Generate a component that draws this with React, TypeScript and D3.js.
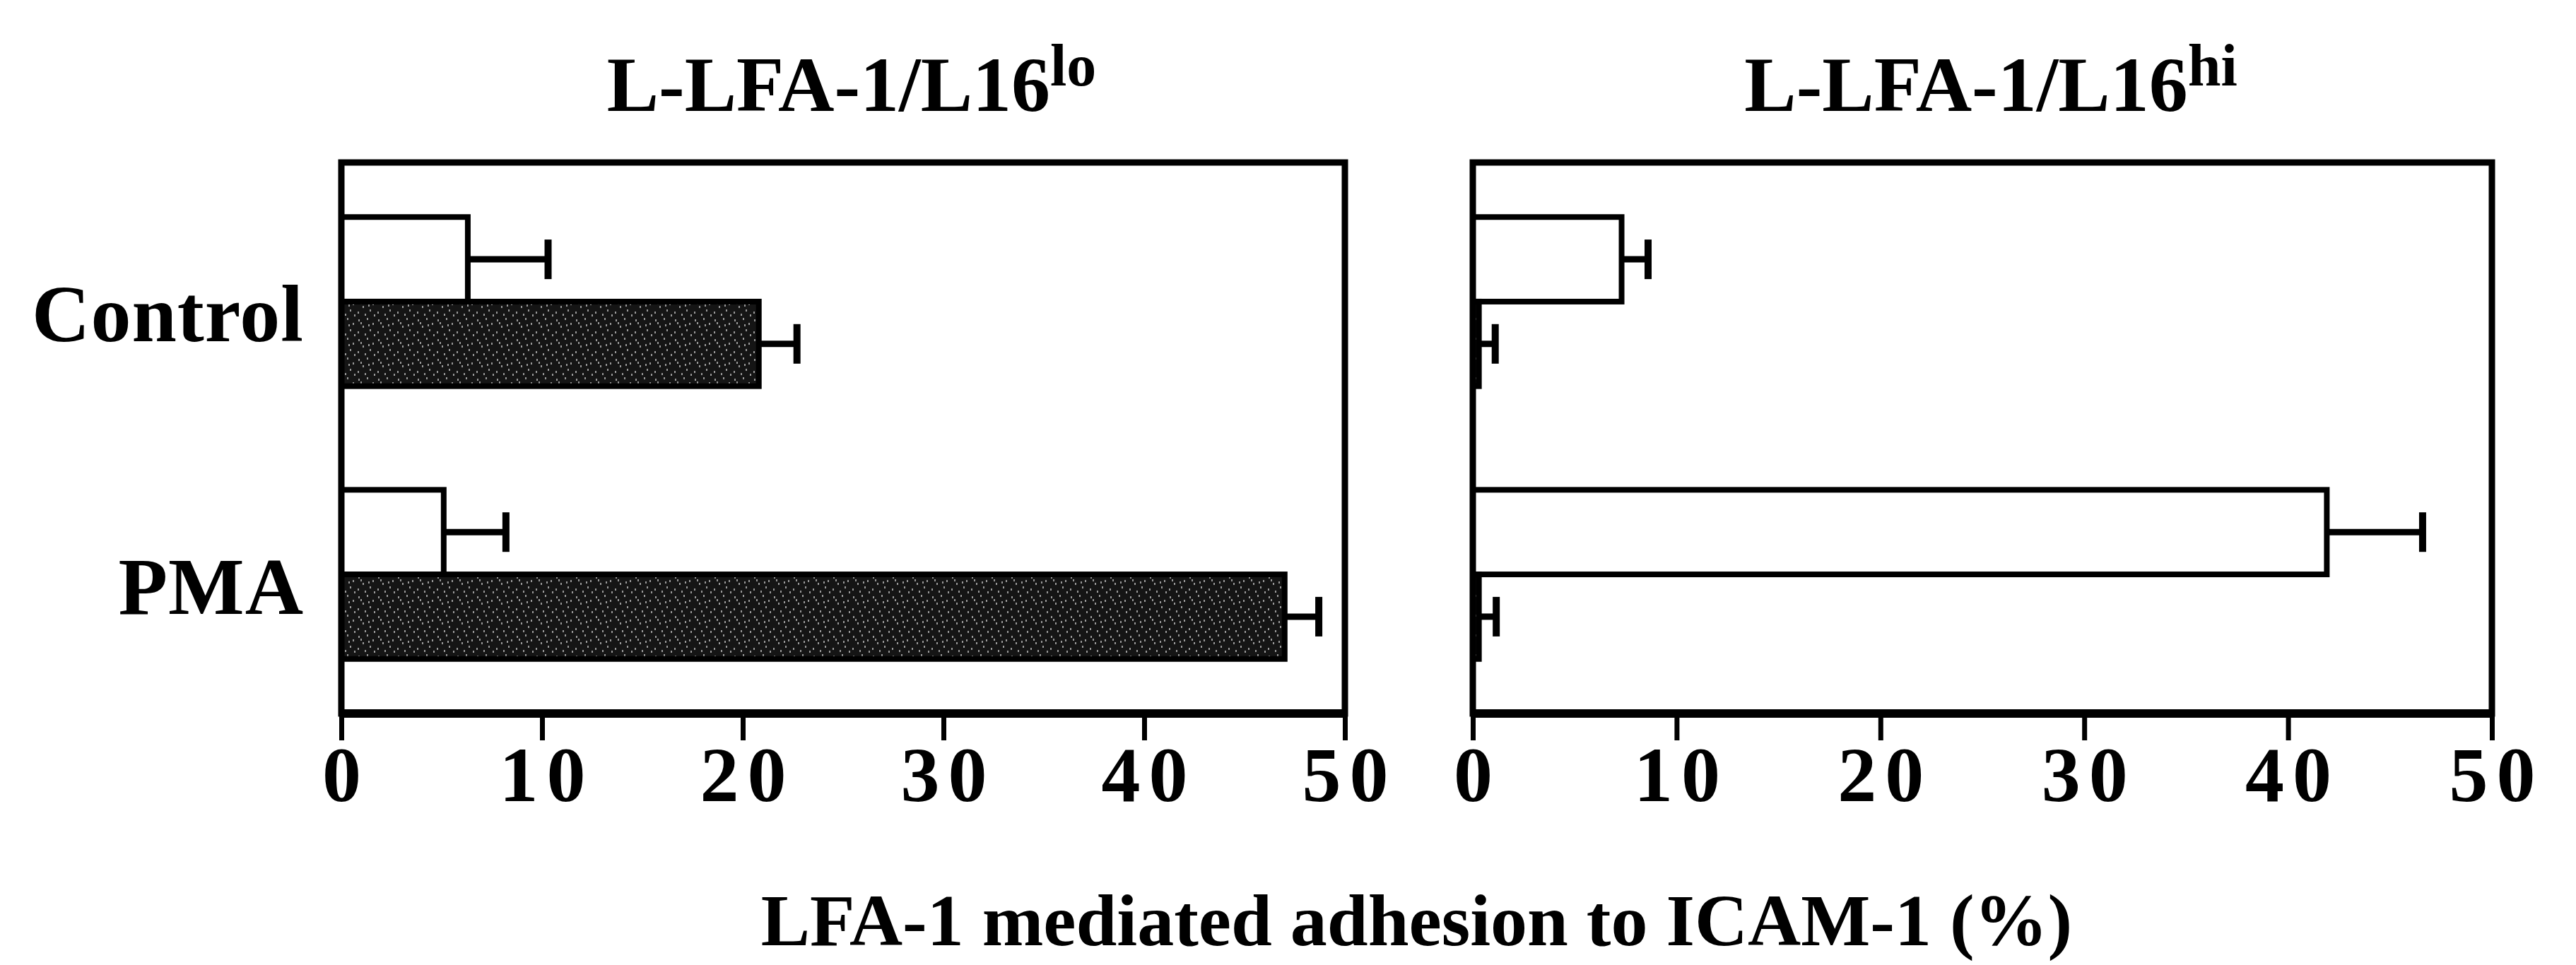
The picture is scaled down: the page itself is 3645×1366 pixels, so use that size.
import * as React from 'react'
import * as d3 from 'd3'

// categories and series
const categories = ['Control', 'PMA']
const series = ['open', 'filled']

// L-LFA-1/L16lo panel (open = white bars, filled = black bars)
const loOpen = [6.3, 5.1]
const loOpenErr = [4.0, 3.1]
const loFilled = [20.8, 47.0]
const loFilledErr = [1.9, 1.7]

// L-LFA-1/L16hi panel
const hiOpen = [7.3, 41.9]
const hiOpenErr = [1.3, 4.7]
const hiFilled = [0.3, 0.3]
const hiFilledErr = [0.8, 0.85]

const xTicks = [0, 10, 20, 30, 40, 50]
const panelTitles = ['L-LFA-1/L16', 'L-LFA-1/L16']
const panelSups = ['lo', 'hi']
const xTitle = 'LFA-1 mediated adhesion to ICAM-1 (%)'

const W = 3645
const H = 1366
const FONT = '"Liberation Serif", "Times New Roman", serif'

export default function App() {
  const ref = React.useRef<SVGSVGElement | null>(null)

  React.useEffect(() => {
    const svg = d3.select(ref.current)
    svg.selectAll('*').remove()

    // speckled fill for the dark bars
    const defs = svg.append('defs')
    const pat = defs
      .append('pattern')
      .attr('id', 'speckle')
      .attr('width', 28)
      .attr('height', 28)
      .attr('patternUnits', 'userSpaceOnUse')
    pat.append('rect').attr('width', 28).attr('height', 28).attr('fill', '#151515')
    const dots = [
      [3, 4], [15, 2], [23, 9], [9, 13], [19, 18], [2, 21], [12, 24], [25, 25], [6, 8], [17, 11],
    ]
    pat
      .selectAll('rect.dot')
      .data(dots)
      .enter()
      .append('rect')
      .attr('class', 'dot')
      .attr('x', (d) => d[0])
      .attr('y', (d) => d[1])
      .attr('width', 2)
      .attr('height', 3)
      .attr('fill', '#9a9a9a')

    const top = 230
    const bottom = 1010
    const panels = [
      { x0: 483, x1: 1903, open: loOpen, openErr: loOpenErr, filled: loFilled, filledErr: loFilledErr },
      { x0: 2084, x1: 3526, open: hiOpen, openErr: hiOpenErr, filled: hiFilled, filledErr: hiFilledErr },
    ]

    const y = d3.scaleBand().domain(categories).range([top, bottom]).paddingInner(0.38).paddingOuter(0.2)
    const ySub = d3.scaleBand().domain(series).range([0, y.bandwidth()]).padding(0)

    panels.forEach((p, pi) => {
      const x = d3.scaleLinear().domain([0, 50]).range([p.x0, p.x1])
      const g = svg.append('g')

      const rows = categories.flatMap((c, i) => [
        { cat: c, s: 'open', v: p.open[i], e: p.openErr[i] },
        { cat: c, s: 'filled', v: p.filled[i], e: p.filledErr[i] },
      ])

      // bars
      g.selectAll('rect.bar')
        .data(rows)
        .enter()
        .append('rect')
        .attr('class', 'bar')
        .attr('x', x(0))
        .attr('y', (d) => (y(d.cat) as number) + (ySub(d.s) as number))
        .attr('width', (d) => x(d.v) - x(0))
        .attr('height', ySub.bandwidth())
        .attr('fill', (d) => (d.s === 'open' ? '#fff' : 'url(#speckle)'))
        .attr('stroke', '#000')
        .attr('stroke-width', 8)

      // error bars
      const yc = (d: any) => (y(d.cat) as number) + (ySub(d.s) as number) + ySub.bandwidth() / 2
      g.selectAll('line.err')
        .data(rows)
        .enter()
        .append('line')
        .attr('x1', (d) => x(d.v))
        .attr('x2', (d) => x(d.v + d.e))
        .attr('y1', yc)
        .attr('y2', yc)
        .attr('stroke', '#000')
        .attr('stroke-width', 9)
      g.selectAll('line.cap')
        .data(rows)
        .enter()
        .append('line')
        .attr('x1', (d) => x(d.v + d.e))
        .attr('x2', (d) => x(d.v + d.e))
        .attr('y1', (d) => yc(d) - 28)
        .attr('y2', (d) => yc(d) + 28)
        .attr('stroke', '#000')
        .attr('stroke-width', 10)

      // frame
      g.append('rect')
        .attr('x', p.x0)
        .attr('y', top)
        .attr('width', p.x1 - p.x0)
        .attr('height', bottom - top)
        .attr('fill', 'none')
        .attr('stroke', '#000')
        .attr('stroke-width', 9)
      g.append('line')
        .attr('x1', p.x0)
        .attr('x2', p.x1)
        .attr('y1', bottom)
        .attr('y2', bottom)
        .attr('stroke', '#000')
        .attr('stroke-width', 12)

      // x axis
      const ax = svg
        .append('g')
        .attr('transform', `translate(0,${bottom})`)
        .call(d3.axisBottom(x).tickValues(xTicks).tickSize(38).tickSizeOuter(0).tickPadding(8))
      ax.select('.domain').remove()
      ax.selectAll('.tick line').attr('stroke', '#000').attr('stroke-width', 7)
      ax.selectAll('.tick text')
        .attr('font-family', FONT)
        .attr('font-weight', 'bold')
        .attr('font-size', 110)
        .attr('letter-spacing', 12)
        .attr('dx', 6)
        .attr('fill', '#000')

      // panel title with superscript
      const t = svg
        .append('text')
        .attr('x', (p.x0 + p.x1) / 2 + 12)
        .attr('y', 157)
        .attr('text-anchor', 'middle')
        .attr('font-family', FONT)
        .attr('font-weight', 'bold')
        .attr('font-size', 110)
      t.append('tspan').text(panelTitles[pi])
      t.append('tspan').attr('dy', -36).attr('font-size', 84).text(panelSups[pi])

      // category labels (left panel only)
      if (pi === 0) {
        svg
          .selectAll('text.cat')
          .data(categories)
          .enter()
          .append('text')
          .attr('class', 'cat')
          .attr('x', 430)
          .attr('y', (d) => (y(d) as number) + y.bandwidth() / 2 + 56)
          .attr('text-anchor', 'end')
          .attr('font-family', FONT)
          .attr('font-weight', 'bold')
          .attr('font-size', 114)
          .attr('letter-spacing', 1)
          .text((d) => d)
      }
    })

    svg
      .append('text')
      .attr('x', (panels[0].x0 + panels[1].x1) / 2)
      .attr('y', 1338)
      .attr('text-anchor', 'middle')
      .attr('font-family', FONT)
      .attr('font-weight', 'bold')
      .attr('font-size', 104)
      .text(xTitle)
  }, [])

  return (
    <svg
      ref={ref}
      width={W}
      height={H}
      style={{ position: 'absolute', left: 0, top: 0, background: '#fff', display: 'block' }}
    />
  )
}
